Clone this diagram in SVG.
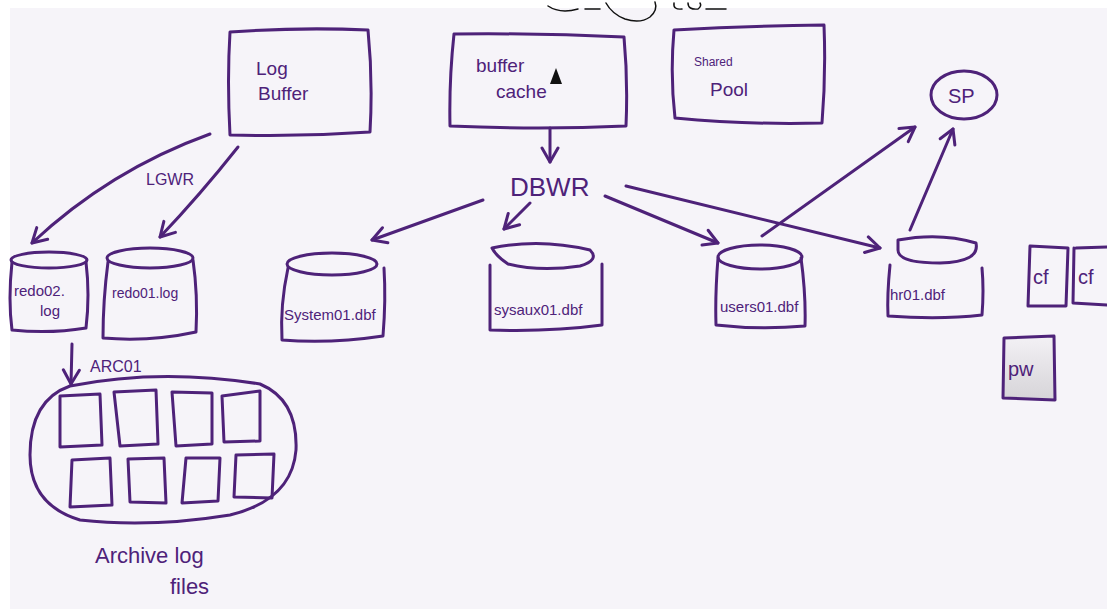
<svg xmlns="http://www.w3.org/2000/svg" width="1107" height="609" viewBox="0 0 1107 609">
  <style>
    .ink { fill: none; stroke: #4e2279; stroke-width: 3; stroke-linecap: round; stroke-linejoin: round; }
    .pen { fill: none; stroke: #111; stroke-width: 1.5; stroke-linecap: round; }
    .lbl { font-family: "Liberation Sans", "DejaVu Sans", sans-serif; fill: #4e2279; }
  </style>
  <defs>
    <marker id="vee" viewBox="0 0 20 20" refX="16" refY="10" markerWidth="20" markerHeight="20" markerUnits="userSpaceOnUse" orient="auto">
      <path d="M2 2 L16 10 L2 18" fill="none" stroke="#4e2279" stroke-width="3" stroke-linecap="round" stroke-linejoin="round"/>
    </marker>
    <linearGradient id="pwFill" x1="0" y1="0" x2="0" y2="1">
      <stop offset="0" stop-color="#f3f1f5"/>
      <stop offset="1" stop-color="#d6d4d8"/>
    </linearGradient>
  </defs>

  <!-- board -->
  <rect width="1107" height="609" fill="#ffffff"/>
  <rect x="10" y="8" width="1097" height="601" fill="#f6f4f9"/>

  <!-- scribbles cut off at the top edge -->
  <g id="top-scribbles">
    <path class="pen" d="M548 6 Q560 14 578 9"/>
    <path class="pen" d="M585 9 L600 9"/>
    <path class="pen" d="M606 3 Q612 14 625 19 Q640 24 650 17 Q658 10 655 2"/>
    <path class="pen" d="M674 3 Q673 10 682 9 M688 3 Q688 10 698 9 Q702 6 700 3 M706 9 L726 9"/>
  </g>

  <!-- mouse pointer -->
  <path d="M556 68 L550 84 L562 84 Z" fill="#111"/>

  <g id="log-buffer">
    <path class="ink" d="M230 32 Q300 27 368 30 Q373 80 370 132 Q300 137 230 135 Q227 80 230 32 Z"/>
    <text class="lbl" x="256" y="75" font-size="19">Log</text>
    <text class="lbl" x="258" y="100" font-size="19">Buffer</text>
  </g>

  <g id="buffer-cache">
    <path class="ink" d="M454 34 Q540 33 624 37 Q628 80 626 126 Q540 130 450 126 Q449 80 454 34 Z"/>
    <text class="lbl" x="476" y="72" font-size="19">buffer</text>
    <text class="lbl" x="496" y="98" font-size="19">cache</text>
  </g>

  <g id="shared-pool">
    <path class="ink" d="M674 30 Q750 26 824 25 Q826 75 822 123 Q750 125 675 118 Q670 75 674 30 Z"/>
    <text class="lbl" x="694" y="66" font-size="12">Shared</text>
    <text class="lbl" x="710" y="96" font-size="19">Pool</text>
  </g>

  <g id="sp">
    <ellipse class="ink" cx="964" cy="95" rx="33" ry="24"/>
    <text class="lbl" x="948" y="103" font-size="20">SP</text>
  </g>

  <g id="dbwr">
    <text class="lbl" x="510" y="196" font-size="26">DBWR</text>
  </g>

  <g id="redo02">
    <ellipse class="ink" cx="49" cy="260" rx="38" ry="8"/>
    <path class="ink" d="M12 262 Q8 300 12 330 Q50 334 86 328 Q90 295 86 262"/>
    <text class="lbl" x="14" y="296" font-size="15">redo02.</text>
    <text class="lbl" x="40" y="316" font-size="15">log</text>
  </g>

  <g id="redo01">
    <ellipse class="ink" cx="150" cy="258" rx="43" ry="10"/>
    <path class="ink" d="M108 262 Q103 300 103 338 Q150 342 196 332 Q198 295 193 260"/>
    <text class="lbl" x="112" y="298" font-size="14">redo01.log</text>
  </g>

  <g id="system01">
    <ellipse class="ink" cx="332" cy="264" rx="45" ry="11"/>
    <path class="ink" d="M288 268 Q280 305 282 340 Q330 344 383 336 Q386 300 384 268"/>
    <text class="lbl" x="284" y="320" font-size="15">System01.dbf</text>
  </g>

  <g id="sysaux01">
    <path class="ink" d="M492 248 Q540 238 590 250 Q600 260 580 266 Q540 272 508 264 Q496 256 492 248 Z"/>
    <path class="ink" d="M490 265 Q490 300 490 330 Q550 332 602 325 Q602 295 602 264"/>
    <text class="lbl" x="494" y="315" font-size="15">sysaux01.dbf</text>
  </g>

  <g id="users01">
    <ellipse class="ink" cx="760" cy="257" rx="42" ry="12"/>
    <path class="ink" d="M718 258 Q715 295 716 325 Q760 330 805 326 Q806 295 801 258"/>
    <text class="lbl" x="720" y="312" font-size="15">users01.dbf</text>
  </g>

  <g id="hr01">
    <path class="ink" d="M898 240 Q940 232 976 243 Q980 262 940 263 Q898 263 898 250 Z"/>
    <path class="ink" d="M890 265 Q887 295 888 316 Q940 320 982 315 Q984 290 982 268"/>
    <text class="lbl" x="890" y="300" font-size="15">hr01.dbf</text>
  </g>

  <g id="cf1">
    <path class="ink" d="M1030 246 L1068 248 L1066 306 L1028 306 Z"/>
    <text class="lbl" x="1033" y="284" font-size="20">cf</text>
  </g>

  <g id="cf2">
    <path class="ink" d="M1076 248 L1107 247 M1074 248 L1073 303 L1107 305"/>
    <text class="lbl" x="1078" y="284" font-size="20">cf</text>
  </g>

  <g id="pw">
    <path d="M1004 338 L1054 336 L1055 400 L1003 398 Z" fill="url(#pwFill)" stroke="#4e2279" stroke-width="3" stroke-linejoin="round"/>
    <text class="lbl" x="1008" y="376" font-size="20">pw</text>
  </g>

  <g id="archive-logs">
    <path class="ink" d="M70 386 Q160 368 260 384 Q298 400 296 450 Q292 500 230 515 Q150 528 80 520 Q30 505 30 455 Q30 400 70 386 Z"/>
    <path class="ink" d="M60 396 L100 394 L102 445 L60 447 Z"/>
    <path class="ink" d="M114 392 L156 390 L158 444 L120 446 Z"/>
    <path class="ink" d="M172 392 L212 393 L212 444 L176 446 Z"/>
    <path class="ink" d="M222 396 L260 391 L260 441 L224 442 Z"/>
    <path class="ink" d="M72 460 L110 458 L112 505 L70 507 Z"/>
    <path class="ink" d="M128 459 L164 458 L166 503 L130 502 Z"/>
    <path class="ink" d="M186 458 L220 458 L218 501 L182 503 Z"/>
    <path class="ink" d="M236 455 L274 454 L272 498 L234 497 Z"/>
    <text class="lbl" x="95" y="563" font-size="22">Archive log</text>
    <text class="lbl" x="170" y="594" font-size="22">files</text>
  </g>

  <g id="connectors">
    <path class="ink" marker-end="url(#vee)" d="M210 134 Q110 170 32 243"/>
    <path class="ink" marker-end="url(#vee)" d="M238 147 Q200 195 160 237"/>
    <text class="lbl" x="146" y="185" font-size="16">LGWR</text>
    <path class="ink" marker-end="url(#vee)" d="M550 128 L550 162"/>
    <path class="ink" marker-end="url(#vee)" d="M483 200 L372 240"/>
    <path class="ink" marker-end="url(#vee)" d="M530 203 L504 229"/>
    <path class="ink" marker-end="url(#vee)" d="M605 196 L718 243"/>
    <path class="ink" marker-end="url(#vee)" d="M626 186 L880 248"/>
    <path class="ink" marker-end="url(#vee)" d="M762 236 L915 127"/>
    <path class="ink" marker-end="url(#vee)" d="M910 230 L953 129"/>
    <path class="ink" marker-end="url(#vee)" d="M72 344 L71 384"/>
    <text class="lbl" x="90" y="372" font-size="16">ARC01</text>
  </g>
</svg>
